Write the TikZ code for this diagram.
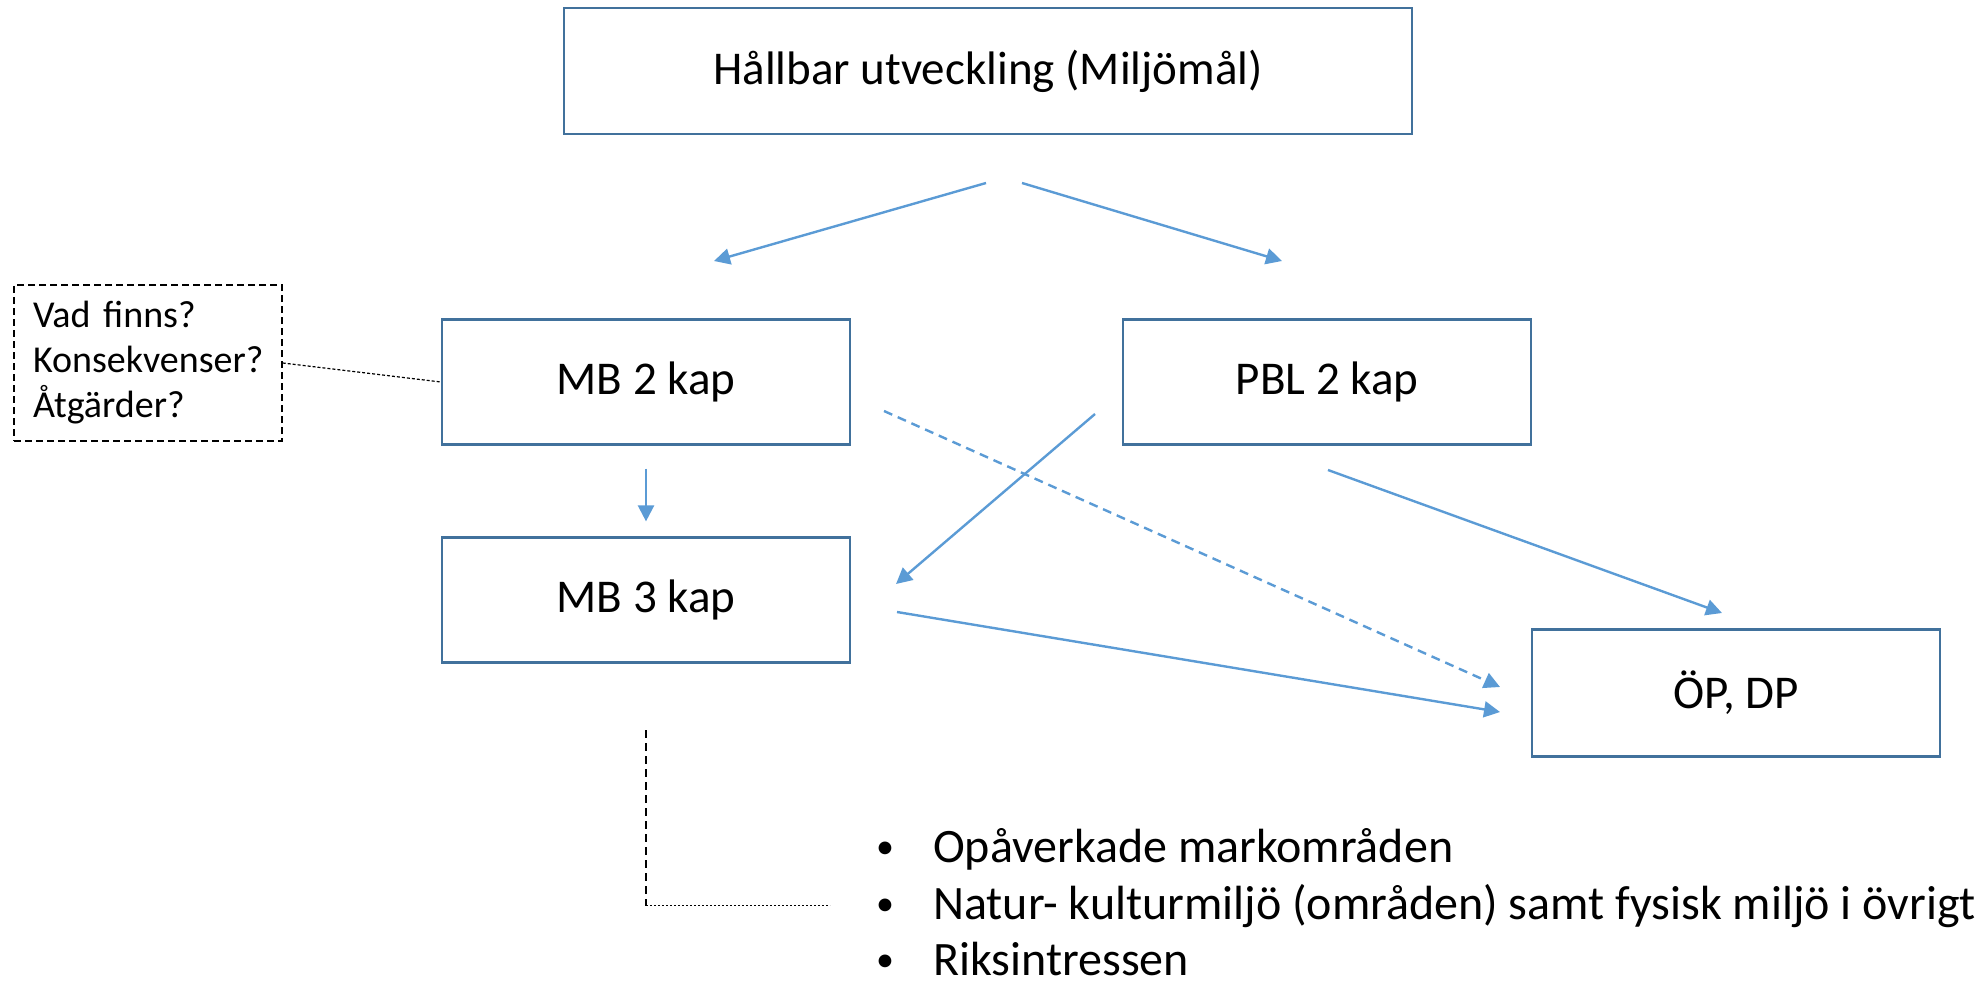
\documentclass[tikz,border=0pt]{standalone}
\usepackage{fontspec}
\setmainfont{Carlito}
\usepackage{tikz}
\usetikzlibrary{arrows.meta,calc}
\usepackage{xcolor}
\definecolor{boxblue}{HTML}{41719C}
\definecolor{arrowblue}{HTML}{5B9BD5}
\newcommand{\listdot}{\makebox[57pt][l]{\raisebox{4pt}{\fontsize{36}{36}\selectfont\textbullet}}}

\begin{document}
\begin{tikzpicture}[x=1pt, y=-1pt, box/.style={draw=boxblue, line width=2.2pt, minimum width=408pt, minimum height=125pt, inner sep=0pt, font=\fontsize{47}{56}\selectfont}, note/.style={draw, dash pattern=on 7pt off 4pt, line width=1.5pt, text width=230pt, minimum height=156pt, inner xsep=19pt, align=left, font=\fontsize{38}{45}\selectfont}, arrow/.style={draw=arrowblue, line width=2.4pt, -{Triangle[length=16pt,width=16pt]}}, item/.style={anchor=base west, inner sep=0pt, font=\fontsize{48}{57}\selectfont}, link/.style={line width=1.2pt}]
\useasboundingbox (0,0) rectangle (1979,987);
\node[box, minimum width=848pt, minimum height=126pt] (top) at (988,71) {Hållbar utveckling (Miljömål)};
\node[box] (mb2) at (646,382) {MB 2 kap};
\node[box] (mb3) at (646,600) {MB 3 kap};
\node[box] (pbl) at (1327,382) {PBL 2 kap};
\node[box, minimum height=127pt] (op) at (1736,693) {ÖP, DP};
\node[note] (q) at (148,363) {Vad finns?\\Konsekvenser?\\Åtgärder?};
\node[item] (li1) at (876,862) {\listdot Opåverkade markområden};
\node[item] (li2) at (876,919) {\listdot Natur- kulturmiljö (områden) samt fysisk miljö i övrigt};
\node[item] (li3) at (876,975) {\listdot Riksintressen};
\coordinate (a1) at (986,183);
\coordinate (a2) at (714,261);
\coordinate (b1) at (1022,183);
\coordinate (b2) at (1282,261);
\coordinate (d1) at (884,411);
\coordinate (d2) at (1500,687);
\coordinate (e1) at (1095,414);
\coordinate (e2) at (896,584);
\coordinate (f1) at (1328,470);
\coordinate (f2) at (1722,613);
\coordinate (g1) at (897,612);
\coordinate (g2) at (1500,712);
\coordinate (lc) at (646,730);
\draw[arrow] (a1) -- (a2);
\draw[arrow] (b1) -- (b2);
\draw[arrow, shorten <=23pt, shorten >=15pt] (mb2.south) -- (mb3.north);
\draw[arrow, dash pattern=on 9pt off 6pt] (d1) -- (d2);
\draw[arrow] (e1) -- (e2);
\draw[arrow] (f1) -- (f2);
\draw[arrow] (g1) -- (g2);
\draw[link, dash pattern=on 3pt off 2pt] (q.east) -- (mb2.west);
\draw[link, dash pattern=on 8pt off 5pt] (lc) -- (lc |- li2.west);
\draw[link, dash pattern=on 2pt off 2pt] (lc |- li2.west) -- ([xshift=-46pt]li2.west);
\end{tikzpicture}
\end{document}
